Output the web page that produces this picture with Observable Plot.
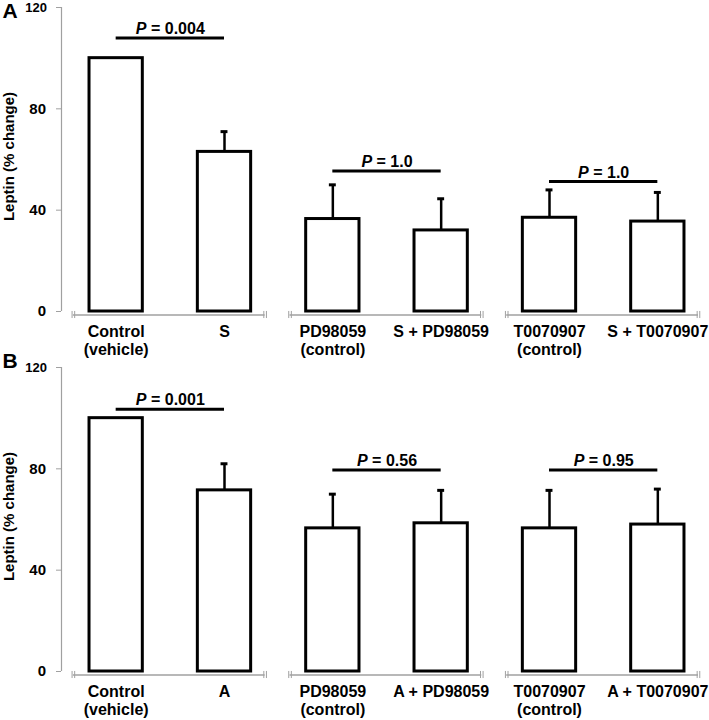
<!DOCTYPE html>
<html><head><meta charset="utf-8">
<script src="https://cdn.jsdelivr.net/npm/d3@7"></script>
<script src="https://cdn.jsdelivr.net/npm/@observablehq/plot@0.6"></script>
<style>
body{margin:0;background:#fff;}
#chart{position:relative;width:709px;height:720px;}
#chart > svg{position:absolute;left:0;}
</style>
</head><body><div id="chart"></div>
<script>
// ---- data ----
const yTicks = [0, 40, 80, 120];
const yLabel = "Leptin (% change)";

const categoriesA = ["Control\n(vehicle)", "S", "PD98059\n(control)", "S + PD98059", "T0070907\n(control)", "S + T0070907"];
const meanA = [100, 63, 36.5, 32, 37, 35.5];
const errTopA = [null, 71, 50, 44.5, 48, 47];
const pValuesA = ["0.004", "1.0", "1.0"];
const bracketA = [108, 55.5, 51.3];

const categoriesB = ["Control\n(vehicle)", "A", "PD98059\n(control)", "A + PD98059", "T0070907\n(control)", "A + T0070907"];
const meanB = [100, 71.5, 56.5, 58.5, 56.5, 58];
const errTopB = [null, 82, 70, 71.5, 71.5, 72];
const pValuesB = ["0.001", "0.56", "0.95"];
const bracketB = [103.5, 79.5, 79.5];

const GRAY = "#a0a0a0";
const FONT = "Arial, 'Liberation Sans', sans-serif";

function panel(letter, cats, means, errTops, pVals, pHeights, letterDy) {
  const bars = cats.map((c, i) => ({i, c, m: means[i], e: errTops[i]}));
  const errs = bars.filter(d => d.e != null);
  const segs = [0, 1, 2].map(g => ({x1: 2 * g + 0.49 - 0.885, x2: 2 * g + 0.49 + 0.885}));
  const ends = segs.flatMap(s => [s.x1, s.x2]);
  const brackets = pVals.map((p, g) => ({a: 2 * g, b: 2 * g + 1, h: pHeights[g], label: "P = " + p}));
  const topTick = yTicks.filter(d => d === d3.max(yTicks));
  const lowTicks = yTicks.filter(d => d !== d3.max(yTicks));

  const svg = Plot.plot({
    width: 709, height: 360,
    marginLeft: 61, marginRight: 0, marginTop: 7, marginBottom: 49,
    style: {fontFamily: FONT, fontWeight: "bold", fontSize: "16px", overflow: "visible", background: "transparent", color: "black"},
    x: {domain: [-0.5, 5.5], range: [61.5, 711.5], axis: null},
    y: {domain: [0, 120]},
    marks: [
      Plot.axisY({ticks: yTicks, tickSize: 5, stroke: GRAY, tickFormat: () => "", label: null}),
      Plot.ruleX([-0.5], {x: d => d, y1: 0, y2: 120, stroke: GRAY, strokeWidth: 1.2, dx: -0.5}),
      Plot.text(lowTicks, {x: -0.5, y: d => d, text: d => String(d), textAnchor: "end", dx: -16, fontSize: 15, fontWeight: "bold", fill: "black"}),
      Plot.text(topTick, {x: -0.5, y: d => d, text: d => String(d), textAnchor: "end", dx: -15, fontSize: 13, fontWeight: "bold", fill: "black"}),
      Plot.ruleY(segs, {y: 0, x1: "x1", x2: "x2", dy: 3.5, stroke: GRAY, strokeWidth: 1.5}),
      Plot.ruleX(ends, {x: d => d, y1: -1.4, y2: 1.4, dy: 3.5, dx: -1.3, stroke: GRAY, strokeWidth: 1}),
      Plot.ruleX(ends, {x: d => d, y1: -1.4, y2: 1.4, dy: 3.5, dx: 1.3, stroke: GRAY, strokeWidth: 1}),
      Plot.ruleX(errs, {x: "i", y1: "m", y2: "e", stroke: "black", strokeWidth: 2.5}),
      Plot.ruleY(errs, {y: "e", x1: d => d.i - 0.032, x2: d => d.i + 0.032, stroke: "black", strokeWidth: 3}),
      Plot.rectY(bars, {x1: d => d.i - 0.246, x2: d => d.i + 0.246, y1: 0, y2: "m", fill: "white", stroke: "black", strokeWidth: 3}),
      Plot.ruleY(brackets, {y: "h", x1: "a", x2: "b", stroke: "black", strokeWidth: 3}),
      Plot.text(brackets, {x: d => (d.a + d.b) / 2, y: "h", text: "label", dy: -9, fontSize: 16, fontWeight: "bold", fill: "black"}),
      Plot.text(bars, {x: "i", y: 0, text: "c", lineAnchor: "top", dy: 12.5, fontSize: 16, fontWeight: "bold", lineHeight: 1.12, fill: "black"}),
      Plot.text([yLabel], {frameAnchor: "left", textAnchor: "middle", lineAnchor: "middle", rotate: -90,
        dx: -52.5, dy: -3, fontSize: 15, fontWeight: "bold", fill: "black"}),
      Plot.text([letter], {frameAnchor: "top-left", textAnchor: "middle", lineAnchor: "middle",
        dx: -51.5, dy: letterDy, fontSize: 21, fontWeight: "bold", fill: "black"})
    ]
  });

  // italic P in the significance labels
  d3.select(svg).selectAll("text").each(function () {
    const t = this.textContent;
    if (t.startsWith("P = ")) {
      const el = d3.select(this);
      el.text(null);
      el.append("tspan").attr("font-style", "italic").text("P");
      el.append("tspan").text(t.slice(1));
    }
  });
  return svg;
}

const chart = document.getElementById("chart");
const a = panel("A", categoriesA, meanA, errTopA, pValuesA, bracketA, 4);
a.style.top = "0px";
chart.appendChild(a);
const b = panel("B", categoriesB, meanB, errTopB, pValuesB, bracketB, -6);
b.style.top = "360px";
chart.appendChild(b);
</script>
</body></html>
